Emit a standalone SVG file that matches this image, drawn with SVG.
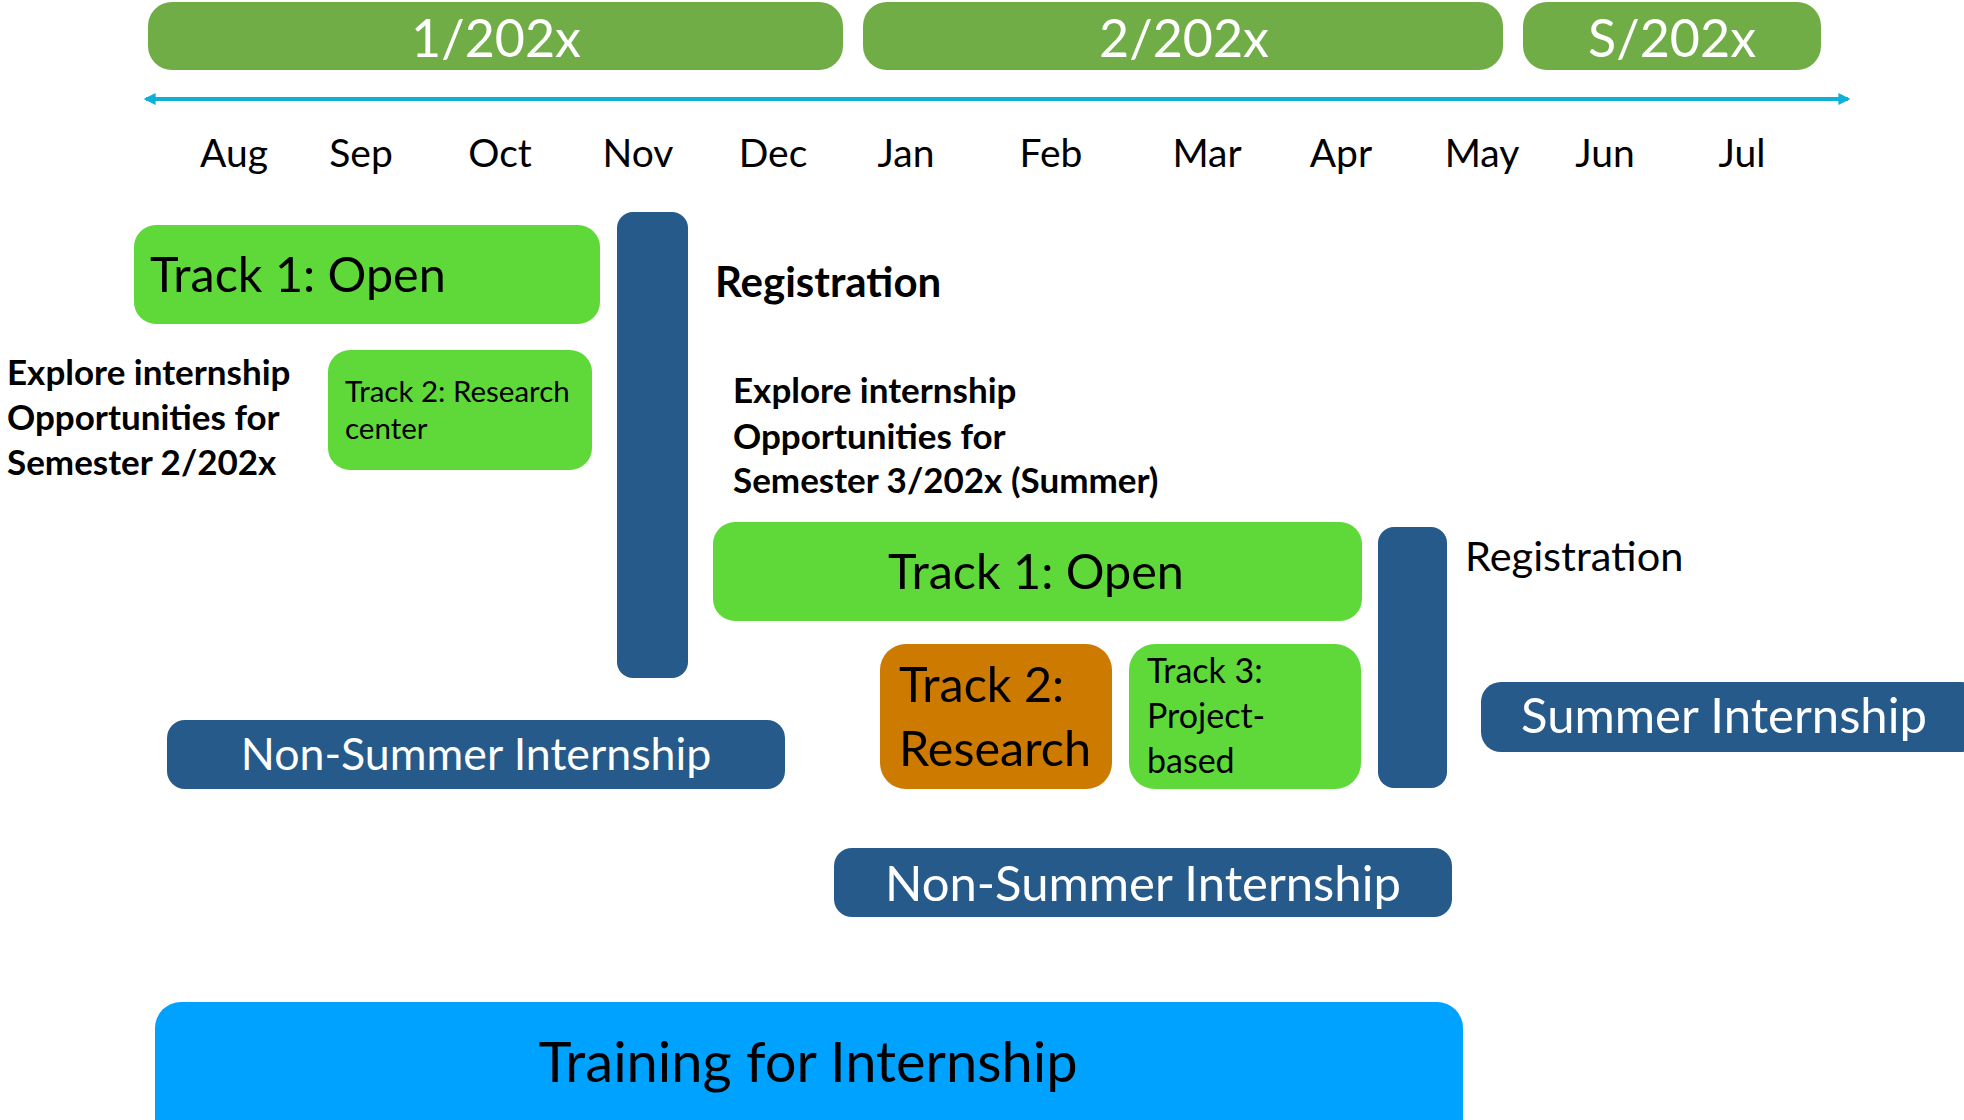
<svg xmlns="http://www.w3.org/2000/svg" width="1964" height="1120" viewBox="0 0 1964 1120">
<style>
text{font-family:Lato,"Liberation Sans",sans-serif;}
.sem{fill:#70AD47;}
.semt{fill:#fff;font-size:52px;text-anchor:middle;}
.mon{font-size:39px;fill:#000;text-anchor:middle;}
.green{fill:#5FD93A;}
.blue{fill:#255A8B;}
.orange{fill:#CC7A00;}
.train{fill:#00A2FF;}
.big{font-size:48.5px;fill:#000;}
.bold{font-weight:bold;fill:#000;}
.wt{fill:#fff;text-anchor:middle;}
</style>
<defs>
<marker id="ah" viewBox="0 0 10 10" refX="8" refY="5" markerWidth="3" markerHeight="3" orient="auto-start-reverse">
<path d="M0,0 L10,5 L0,10 z" fill="#0EB0D8"/>
</marker>
</defs>
<g id="semesters">
<g id="sem1"><rect class="sem" x="148" y="2" width="695" height="68" rx="24"/><text class="semt" x="496" y="57">1/202x</text></g>
<g id="sem2"><rect class="sem" x="863" y="2" width="640" height="68" rx="24"/><text class="semt" x="1184" y="57">2/202x</text></g>
<g id="semS"><rect class="sem" x="1523" y="2" width="298" height="68" rx="24"/><text class="semt" x="1672" y="57">S/202x</text></g>
</g>
<g id="connectors">
<line x1="146" y1="99" x2="1848" y2="99" stroke="#0EB0D8" stroke-width="4" marker-start="url(#ah)" marker-end="url(#ah)"/>
</g>
<g id="months">
<text class="mon" x="234" y="167">Aug</text>
<text class="mon" x="361" y="167">Sep</text>
<text class="mon" x="500" y="167">Oct</text>
<text class="mon" x="638" y="167">Nov</text>
<text class="mon" x="773" y="167">Dec</text>
<text class="mon" x="906" y="167">Jan</text>
<text class="mon" x="1051" y="167">Feb</text>
<text class="mon" x="1207" y="167">Mar</text>
<text class="mon" x="1341" y="167">Apr</text>
<text class="mon" x="1482" y="167">May</text>
<text class="mon" x="1605" y="167">Jun</text>
<text class="mon" x="1742" y="167">Jul</text>
</g>
<g id="track1-open-1"><rect class="green" x="134" y="225" width="466" height="99" rx="22"/><text class="big" x="150" y="292">Track 1: Open</text></g>
<g id="registration-bar-1"><rect class="blue" x="617" y="212" width="71" height="466" rx="16"/></g>
<g id="registration-label-1"><text class="bold" x="715" y="297" font-size="42">Registration</text></g>
<g id="explore-1"><text class="bold" font-size="35"><tspan x="7" y="385">Explore internship</tspan><tspan x="7" y="430">Opportunities for</tspan><tspan x="7" y="475">Semester 2/202x</tspan></text></g>
<g id="track2-research-center"><rect class="green" x="328" y="350" width="264" height="120" rx="22"/><text font-size="29.5" fill="#000"><tspan x="345" y="402">Track 2: Research</tspan><tspan x="345" y="439">center</tspan></text></g>
<g id="explore-2"><text class="bold" font-size="35"><tspan x="733" y="403">Explore internship</tspan><tspan x="733" y="449">Opportunities for</tspan><tspan x="733" y="493">Semester 3/202x (Summer)</tspan></text></g>
<g id="track1-open-2"><rect class="green" x="713" y="522" width="649" height="99" rx="22"/><text class="big" x="1036" y="589" text-anchor="middle">Track 1: Open</text></g>
<g id="track2-research"><rect class="orange" x="880" y="644" width="232" height="145" rx="26"/><text class="big"><tspan x="899" y="702">Track 2:</tspan><tspan x="899" y="766">Research</tspan></text></g>
<g id="track3-project"><rect class="green" x="1129" y="644" width="232" height="145" rx="26"/><text font-size="34" fill="#000"><tspan x="1147" y="683">Track 3:</tspan><tspan x="1147" y="728">Project-</tspan><tspan x="1147" y="773">based</tspan></text></g>
<g id="registration-bar-2"><rect class="blue" x="1378" y="527" width="69" height="261" rx="16"/></g>
<g id="registration-label-2"><text x="1465" y="571" font-size="41.5" fill="#000">Registration</text></g>
<g id="summer-internship"><rect class="blue" x="1481" y="682" width="500" height="70" rx="20"/><text class="wt" x="1724" y="733" font-size="49">Summer Internship</text></g>
<g id="non-summer-1"><rect class="blue" x="167" y="720" width="618" height="69" rx="18"/><text class="wt" x="476" y="770" font-size="44.7">Non-Summer Internship</text></g>
<g id="non-summer-2"><rect class="blue" x="834" y="848" width="618" height="69" rx="18"/><text class="wt" x="1143" y="901" font-size="49">Non-Summer Internship</text></g>
<g id="training"><rect class="train" x="155" y="1002" width="1308" height="150" rx="26"/><text x="808" y="1082" font-size="56" fill="#000" text-anchor="middle">Training for Internship</text></g>
</svg>
